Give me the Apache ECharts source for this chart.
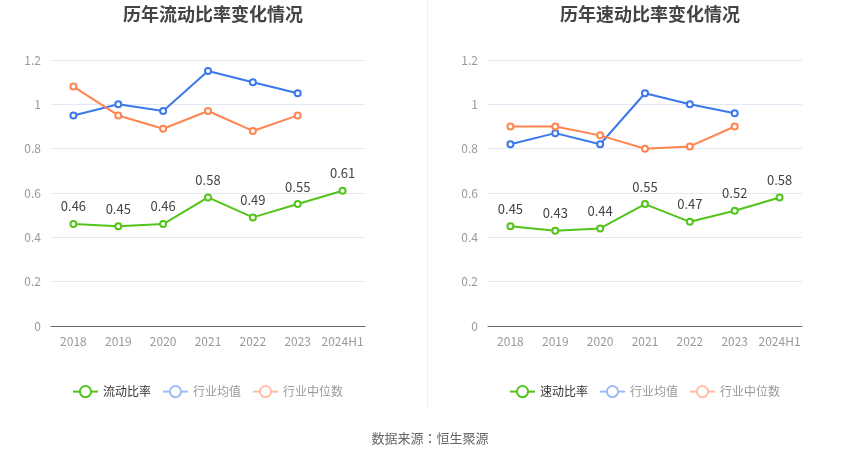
<!DOCTYPE html>
<html><head><meta charset="utf-8">
<script src="https://cdn.jsdelivr.net/npm/echarts@6/dist/echarts.min.js"></script>
<style>html,body{margin:0;padding:0;background:#fff}#c{width:850px;height:459px}</style>
</head><body><div id="c"></div>
<script>
const categories = ['2018','2019','2020','2021','2022','2023','2024H1'];
const currentRatio = [0.46,0.45,0.46,0.58,0.49,0.55,0.61];
const currentIndAvg = [0.95,1.00,0.97,1.15,1.10,1.05,null];
const currentIndMed = [1.08,0.95,0.89,0.97,0.88,0.95,null];
const quickRatio = [0.45,0.43,0.44,0.55,0.47,0.52,0.58];
const quickIndAvg = [0.82,0.87,0.82,1.05,1.00,0.96,null];
const quickIndMed = [0.90,0.90,0.86,0.80,0.81,0.90,null];
const yTicks = {min:0,max:1.2,interval:0.2};

const GREEN='#52c41a', BLUE='#3a78ec', ORANGE='#ff8550';
const FONT='"Noto Sans CJK SC", "Noto Sans", sans-serif';

function legend(name1, left){
  return {
    left: left, top: 380, itemWidth: 25, itemHeight: 14, itemGap: 11,
    textStyle:{fontSize:12, fontFamily:FONT},
    data:[
      {name:name1, textStyle:{color:'#333'}},
      {name:'行业均值', textStyle:{color:'#999'}, itemStyle:{color:'#9dbcf5', borderColor:'#9dbcf5'}, lineStyle:{color:'#9dbcf5'}},
      {name:'行业中位数', textStyle:{color:'#999'}, itemStyle:{color:'#ffbfa5', borderColor:'#ffbfa5'}, lineStyle:{color:'#ffbfa5'}}
    ]
  };
}
function line(name, data, color, idx, label){
  return {
    name, type:'line', data, xAxisIndex:idx, yAxisIndex:idx,
    symbol:'emptyCircle', symbolSize:6, color,
    lineStyle:{width:2, color}, itemStyle:{color, borderWidth:2},
    label: label ? {show:true, position:'top', distance:7, color:'#444', fontSize:13, fontFamily:FONT} : {show:false},
    emphasis:{disabled:true}, z: label?5:3
  };
}
function xAxis(idx){
  return {type:'category', gridIndex:idx, data:categories, boundaryGap:true,
    axisLine:{lineStyle:{color:'#666'}}, axisTick:{alignWithLabel:true, lineStyle:{color:'#666'}},
    axisLabel:{color:'#999', fontSize:12, margin:9, interval:0, fontFamily:FONT}};
}
function yAxis(idx){
  return {type:'value', gridIndex:idx, min:yTicks.min, max:yTicks.max, interval:yTicks.interval,
    axisLine:{show:false}, axisTick:{show:false},
    axisLabel:{color:'#999', fontSize:12, margin:10, fontFamily:FONT},
    splitLine:{lineStyle:{color:'#e3e8f4'}}};
}
const chart = echarts.init(document.getElementById('c'), null, {renderer:'canvas'});
chart.setOption({
  animation:false,
  textStyle:{fontFamily:FONT},
  title:[
    {text:'历年流动比率变化情况', left:208, top:0, textAlign:'center', textStyle:{fontSize:18, fontWeight:'bold', color:'#444', fontFamily:FONT}},
    {text:'历年速动比率变化情况', left:645, top:0, textAlign:'center', textStyle:{fontSize:18, fontWeight:'bold', color:'#444', fontFamily:FONT}},
    {text:'数据来源：恒生聚源', left:425, top:427, textAlign:'center', textStyle:{fontSize:13, fontWeight:'normal', color:'#666', fontFamily:'"Noto Sans CJK JP", sans-serif'}}
  ],
  legend:[ legend('流动比率', 67), legend('速动比率', 504) ],
  grid:[
    {left:51, right:485, top:60, bottom:133},
    {left:488, right:48, top:60, bottom:133}
  ],
  xAxis:[xAxis(0), xAxis(1)],
  yAxis:[yAxis(0), yAxis(1)],
  graphic:[{type:'line', shape:{x1:427.5,y1:0,x2:427.5,y2:407}, style:{stroke:'#eeeeee', lineWidth:1}}],
  series:[
    line('流动比率', currentRatio, GREEN, 0, true),
    line('行业均值', currentIndAvg, BLUE, 0, false),
    line('行业中位数', currentIndMed, ORANGE, 0, false),
    line('速动比率', quickRatio, GREEN, 1, true),
    line('行业均值', quickIndAvg, BLUE, 1, false),
    line('行业中位数', quickIndMed, ORANGE, 1, false)
  ]
});
</script></body></html>
